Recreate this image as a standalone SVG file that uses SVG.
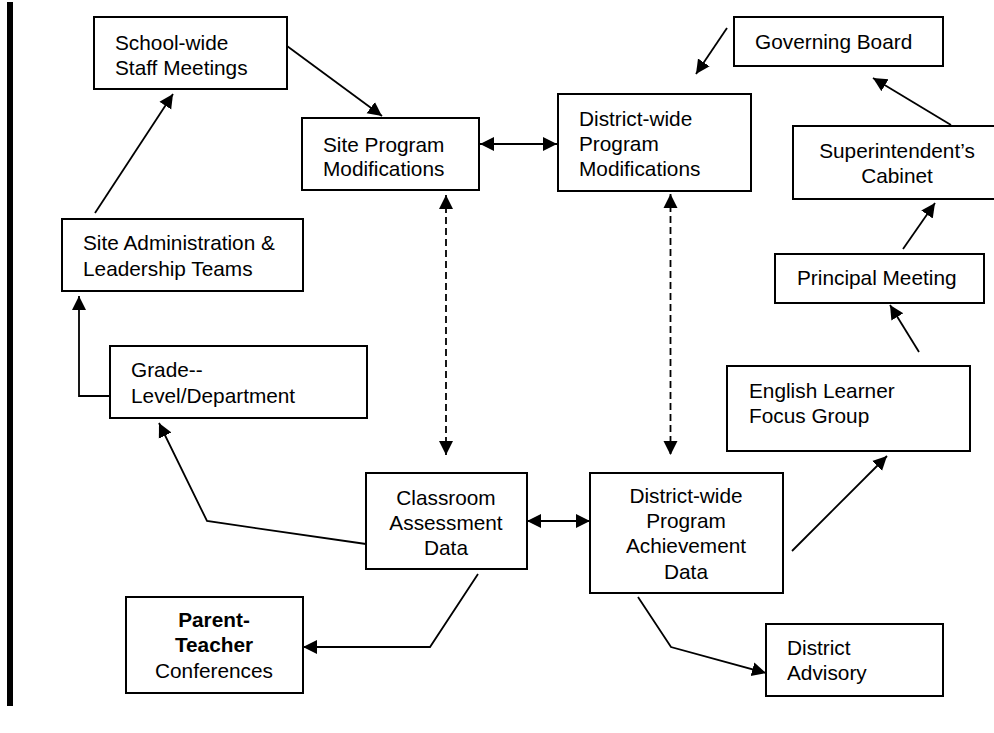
<svg xmlns="http://www.w3.org/2000/svg" width="994" height="733" viewBox="0 0 994 733">
<defs>
<style>
.box{fill:#fff;stroke:#000;stroke-width:2}
.t{font-family:"Liberation Sans",Arial,sans-serif;font-size:20.8px;fill:#000}
.c{text-anchor:middle}
.b{font-weight:bold}
.ln{fill:none;stroke:#000;stroke-width:1.8}
.dash{stroke-dasharray:7 4}
</style>
<marker id="ah" markerUnits="userSpaceOnUse" markerWidth="16" markerHeight="16" refX="14" refY="7.5" orient="auto-start-reverse" viewBox="0 0 16 16">
<path d="M0,0.5 L14,7.5 L0,14.5 Z" fill="#000"/>
</marker>
</defs>
<rect x="0" y="0" width="994" height="733" fill="#fff"/>
<rect x="7" y="2" width="6" height="704" fill="#000"/>

<g id="connectors">
<line class="ln" x1="287" y1="46" x2="382" y2="116" marker-end="url(#ah)"/>
<line class="ln" x1="95" y1="213" x2="173" y2="94" marker-end="url(#ah)"/>
<polyline class="ln" points="110,396 79,396 79,296" marker-end="url(#ah)"/>
<line class="ln" x1="480" y1="144" x2="557" y2="144" marker-start="url(#ah)" marker-end="url(#ah)"/>
<line class="ln" x1="727" y1="28" x2="696" y2="74" marker-end="url(#ah)"/>
<line class="ln" x1="951" y1="125" x2="873" y2="78" marker-end="url(#ah)"/>
<line class="ln" x1="903" y1="249" x2="935" y2="203" marker-end="url(#ah)"/>
<line class="ln" x1="919" y1="352" x2="890" y2="305" marker-end="url(#ah)"/>
<line class="ln" x1="792" y1="551" x2="887" y2="456" marker-end="url(#ah)"/>
<line class="ln dash" x1="446" y1="195" x2="446" y2="455" marker-start="url(#ah)" marker-end="url(#ah)"/>
<line class="ln dash" x1="670.5" y1="194" x2="670.5" y2="455" marker-start="url(#ah)" marker-end="url(#ah)"/>
<line class="ln" x1="527" y1="521" x2="590" y2="521" marker-start="url(#ah)" marker-end="url(#ah)"/>
<polyline class="ln" points="366,544 207,521 159,423" marker-end="url(#ah)"/>
<polyline class="ln" points="478,574 430,647 303,647" marker-end="url(#ah)"/>
<polyline class="ln" points="638,597 671,647 766,673" marker-end="url(#ah)"/>
</g>

<g id="school-wide-staff-meetings">
<rect class="box" x="94" y="17" width="193" height="72"/>
<text class="t" x="115" y="50">School-wide</text>
<text class="t" x="115" y="75">Staff Meetings</text>
</g>
<g id="site-program-modifications">
<rect class="box" x="302" y="118" width="177" height="72"/>
<text class="t" x="323" y="152">Site Program</text>
<text class="t" x="323" y="176">Modifications</text>
</g>
<g id="governing-board">
<rect class="box" x="734" y="17" width="209" height="49"/>
<text class="t" x="755" y="49">Governing Board</text>
</g>
<g id="district-wide-program-modifications">
<rect class="box" x="558" y="94" width="193" height="97"/>
<text class="t" x="579" y="126">District-wide</text>
<text class="t" x="579" y="151">Program</text>
<text class="t" x="579" y="176">Modifications</text>
</g>
<g id="superintendents-cabinet">
<rect class="box" x="793" y="126" width="210" height="73"/>
<text class="t c" x="897" y="158">Superintendent’s</text>
<text class="t c" x="897" y="183">Cabinet</text>
</g>
<g id="principal-meeting">
<rect class="box" x="775" y="254" width="209" height="49"/>
<text class="t" x="797" y="285">Principal Meeting</text>
</g>
<g id="english-learner-focus-group">
<rect class="box" x="727" y="366" width="243" height="85"/>
<text class="t" x="749" y="398">English Learner</text>
<text class="t" x="749" y="423">Focus Group</text>
</g>
<g id="site-administration">
<rect class="box" x="62" y="219" width="241" height="72"/>
<text class="t" x="83" y="250">Site Administration &amp;</text>
<text class="t" x="83" y="276">Leadership Teams</text>
</g>
<g id="grade-level-department">
<rect class="box" x="110" y="346" width="257" height="72"/>
<text class="t" x="131" y="377">Grade--</text>
<text class="t" x="131" y="403">Level/Department</text>
</g>
<g id="classroom-assessment-data">
<rect class="box" x="366" y="473" width="161" height="96"/>
<text class="t c" x="446" y="505">Classroom</text>
<text class="t c" x="446" y="530">Assessment</text>
<text class="t c" x="446" y="555">Data</text>
</g>
<g id="district-wide-program-achievement-data">
<rect class="box" x="590" y="473" width="193" height="120"/>
<text class="t c" x="686" y="503">District-wide</text>
<text class="t c" x="686" y="528">Program</text>
<text class="t c" x="686" y="553">Achievement</text>
<text class="t c" x="686" y="579">Data</text>
</g>
<g id="parent-teacher-conferences">
<rect class="box" x="126" y="597" width="177" height="96"/>
<text class="t c b" x="214" y="627">Parent-</text>
<text class="t c b" x="214" y="652">Teacher</text>
<text class="t c" x="214" y="678">Conferences</text>
</g>
<g id="district-advisory">
<rect class="box" x="766" y="624" width="177" height="72"/>
<text class="t" x="787" y="655">District</text>
<text class="t" x="787" y="680">Advisory</text>
</g>
</svg>
